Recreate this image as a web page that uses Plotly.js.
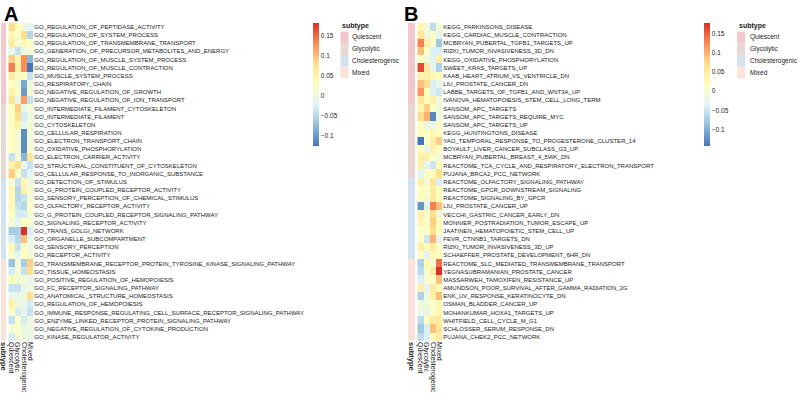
<!DOCTYPE html>
<html>
<head>
<meta charset="utf-8">
<script src="https://cdn.plot.ly/plotly-3.0.1.min.js"></script>
<style>html,body{margin:0;padding:0;background:#fff;}#chart{width:800px;height:404px;}</style>
</head>
<body>
<div id="chart"></div>
<script>
// ---------- DATA ----------
const columns = ["Quiescent", "Glycolytic", "Cholesterogenic", "Mixed"];
const subtypeNames = ["Quiescent", "Glycolytic", "Cholesterogenic", "Mixed"];
const subtypeColors = ["#F1C9CC", "#E7D8D1", "#D4E1EF", "#FDE2D9"];

const rowsA = [
  "GO_REGULATION_OF_PEPTIDASE_ACTIVITY","GO_REGULATION_OF_SYSTEM_PROCESS","GO_REGULATION_OF_TRANSMEMBRANE_TRANSPORT",
  "GO_GENERATION_OF_PRECURSOR_METABOLITES_AND_ENERGY","GO_REGULATION_OF_MUSCLE_SYSTEM_PROCESS","GO_REGULATION_OF_MUSCLE_CONTRACTION",
  "GO_MUSCLE_SYSTEM_PROCESS","GO_RESPIRATORY_CHAIN","GO_NEGATIVE_REGULATION_OF_GROWTH","GO_NEGATIVE_REGULATION_OF_ION_TRANSPORT",
  "GO_INTERMEDIATE_FILAMENT_CYTOSKELETON","GO_INTERMEDIATE_FILAMENT","GO_CYTOSKELETON","GO_CELLULAR_RESPIRATION",
  "GO_ELECTRON_TRANSPORT_CHAIN","GO_OXIDATIVE_PHOSPHORYLATION","GO_ELECTRON_CARRIER_ACTIVITY",
  "GO_STRUCTURAL_CONSTITUENT_OF_CYTOSKELETON","GO_CELLULAR_RESPONSE_TO_INORGANIC_SUBSTANCE",
  "GO_DETECTION_OF_STIMULUS","GO_G_PROTEIN_COUPLED_RECEPTOR_ACTIVITY","GO_SENSORY_PERCEPTION_OF_CHEMICAL_STIMULUS",
  "GO_OLFACTORY_RECEPTOR_ACTIVITY","GO_G_PROTEIN_COUPLED_RECEPTOR_SIGNALING_PATHWAY","GO_SIGNALING_RECEPTOR_ACTIVITY",
  "GO_TRANS_GOLGI_NETWORK","GO_ORGANELLE_SUBCOMPARTMENT","GO_SENSORY_PERCEPTION","GO_RECEPTOR_ACTIVITY",
  "GO_TRANSMEMBRANE_RECEPTOR_PROTEIN_TYROSINE_KINASE_SIGNALING_PATHWAY","GO_TISSUE_HOMEOSTASIS",
  "GO_POSITIVE_REGULATION_OF_HEMOPOIESIS","GO_FC_RECEPTOR_SIGNALING_PATHWAY","GO_ANATOMICAL_STRUCTURE_HOMEOSTASIS",
  "GO_REGULATION_OF_HEMOPOIESIS","GO_IMMUNE_RESPONSE_REGULATING_CELL_SURFACE_RECEPTOR_SIGNALING_PATHWAY",
  "GO_ENZYME_LINKED_RECEPTOR_PROTEIN_SIGNALING_PATHWAY","GO_NEGATIVE_REGULATION_OF_CYTOKINE_PRODUCTION",
  "GO_KINASE_REGULATOR_ACTIVITY"
];
const subtypeA = [0,0,0,0,0,0,0,0,0,0, 1,1,1,1,1,1,1,1,1, 2,2,2,2,2,2,2,2,2,2, 3,3,3,3,3,3,3,3,3,3];
const quiescentA = [0.08,0.04,0.06,-0.01,0.09,0.14,0.06,0.03,0.05,0.07, 0.03,0.03,0.03,0.03,0.03,0.03,-0.04,0.05,0.09, 0.01,0.04,0.04,0.04,0.03,0.01,-0.06,-0.03,0.04,0.02, -0.07,-0.03,0.04,-0.04,-0.01,0.05,0.02,-0.04,0.01,-0.03];
const glycolyticA = [0.03,0.02,0.01,-0.04,0.04,0.05,0.02,0.01,0.02,-0.01, 0.09,0.08,0.05,0.01,0.01,0.01,0.01,0.08,0.02, -0.04,-0.05,-0.05,-0.04,-0.03,-0.02,-0.06,-0.05,-0.04,-0.02, 0.01,0.01,0.01,-0.04,-0.01,0.0,-0.03,0.02,0.02,0.01];
const cholesterogenicA = [0.0,0.08,0.04,0.0,0.13,0.13,0.03,-0.09,-0.10,0.12, -0.01,-0.03,-0.02,-0.11,-0.11,-0.11,-0.08,-0.01,-0.04, 0.04,0.05,-0.04,-0.05,-0.03,0.03,0.182,0.10,0.02,0.03, -0.06,-0.04,0.01,-0.01,0.0,-0.01,-0.01,-0.03,-0.01,0.0];
const mixedA = [-0.02,-0.05,0.02,0.01,-0.08,-0.126,-0.04,0.0,0.01,-0.04, 0.01,0.0,0.01,0.01,0.0,0.01,0.07,-0.04,-0.02, 0.0,0.01,0.01,0.02,0.01,0.01,-0.03,-0.01,0.0,0.01, 0.09,0.08,-0.01,0.0,0.08,-0.03,-0.04,0.0,0.0,-0.01];

const rowsB = [
  "KEGG_PARKINSONS_DISEASE","KEGG_CARDIAC_MUSCLE_CONTRACTION","MCBRYAN_PUBERTAL_TGFB1_TARGETS_UP","RIZKI_TUMOR_INVASIVENESS_3D_DN",
  "KEGG_OXIDATIVE_PHOSPHORYLATION","SWEET_KRAS_TARGETS_UP","KAAB_HEART_ATRIUM_VS_VENTRICLE_DN","LIU_PROSTATE_CANCER_DN",
  "LABBE_TARGETS_OF_TGFB1_AND_WNT3A_UP","IVANOVA_HEMATOPOIESIS_STEM_CELL_LONG_TERM",
  "SANSOM_APC_TARGETS","SANSOM_APC_TARGETS_REQUIRE_MYC","SANSOM_APC_TARGETS_UP","KEGG_HUNTINGTONS_DISEASE",
  "YAO_TEMPORAL_RESPONSE_TO_PROGESTERONE_CLUSTER_14","BOYAULT_LIVER_CANCER_SUBCLASS_G3_UP","MCBRYAN_PUBERTAL_BREAST_4_5WK_DN",
  "REACTOME_TCA_CYCLE_AND_RESPIRATORY_ELECTRON_TRANSPORT","PUJANA_BRCA2_PCC_NETWORK",
  "REACTOME_OLFACTORY_SIGNALING_PATHWAY","REACTOME_GPCR_DOWNSTREAM_SIGNALING","REACTOME_SIGNALING_BY_GPCR",
  "LIU_PROSTATE_CANCER_UP","VECCHI_GASTRIC_CANCER_EARLY_DN","MONNIER_POSTRADIATION_TUMOR_ESCAPE_UP",
  "JAATINEN_HEMATOPOIETIC_STEM_CELL_UP","FEVR_CTNNB1_TARGETS_DN","RIZKI_TUMOR_INVASIVENESS_3D_UP",
  "SCHAEFFER_PROSTATE_DEVELOPMENT_6HR_DN",
  "REACTOME_SLC_MEDIATED_TRANSMEMBRANE_TRANSPORT","YEGNASUBRAMANIAN_PROSTATE_CANCER","MASSARWEH_TAMOXIFEN_RESISTANCE_UP",
  "AMUNDSON_POOR_SURVIVAL_AFTER_GAMMA_RADIATION_2G","ENK_UV_RESPONSE_KERATINOCYTE_DN","OSMAN_BLADDER_CANCER_UP",
  "MOHANKUMAR_HOXA1_TARGETS_UP","WHITFIELD_CELL_CYCLE_M_G1","SCHLOSSER_SERUM_RESPONSE_DN","PUJANA_CHEK2_PCC_NETWORK"
];
const subtypeB = [0,0,0,0,0,0,0,0,0,0, 1,1,1,1,1,1,1,1,1, 2,2,2,2,2,2,2,2,2,2, 3,3,3,3,3,3,3,3,3,3];
const quiescentB = [0.03,0.06,0.13,0.09,0.01,0.16,0.04,0.09,0.12,0.06, 0.03,0.07,0.02,0.02,-0.143,0.02,0.04,0.04,-0.03, 0.04,0.02,0.02,-0.12,0.04,0.03,0.01,0.01,0.04,0.01, -0.07,-0.06,-0.04,0.04,-0.07,-0.01,-0.02,-0.06,-0.08,-0.06];
const glycolyticB = [-0.01,-0.01,0.04,0.01,-0.01,0.05,0.04,0.07,0.02,0.02, 0.08,0.10,-0.02,0.01,0.01,-0.02,0.04,-0.03,0.01, 0.0,0.01,0.0,-0.03,0.01,0.01,0.01,-0.05,0.02,-0.03, 0.03,0.01,0.01,-0.03,-0.01,-0.01,-0.02,0.02,-0.04,-0.04];
const cholesterogenicB = [-0.06,0.01,0.01,-0.04,-0.03,-0.03,0.03,-0.04,-0.04,0.04, 0.01,-0.13,-0.02,0.03,0.04,0.04,0.01,-0.05,0.02, 0.06,0.05,0.05,0.13,0.07,0.08,0.07,0.10,0.05,0.03, 0.0,0.05,0.01,0.05,0.04,0.01,0.01,0.05,0.09,0.02];
const mixedB = [0.0,-0.03,-0.08,-0.04,0.04,-0.07,0.02,-0.02,-0.05,-0.01, -0.01,-0.01,0.01,0.01,0.08,0.01,-0.01,0.02,0.07, -0.04,0.02,0.02,0.09,-0.01,0.02,0.02,-0.03,0.01,0.02, 0.14,0.176,0.09,0.02,0.09,0.03,0.03,0.05,0.06,0.05];

const heatTicks = [-0.1, -0.05, 0, 0.05, 0.1, 0.15];
const heatTickText = ["\u22120.1", "\u22120.05", "0", "0.05", "0.1", "0.15"];

// ---------- STYLE ----------
const W = 800, H = 404;
const FONT = "Liberation Sans, Arial, sans-serif";
const rdylbu = ["#4575B4","#91BFDB","#E0F3F8","#FFFFBF","#FEE090","#FC8D59","#D73027"];
const heatScale = rdylbu.map((c, i) => [i / (rdylbu.length - 1), c]);
const annScale = [];
subtypeColors.forEach((c, i) => {
  const lo = i === 0 ? 0 : (i - 0.5) / 3, hi = i === 3 ? 1 : (i + 0.5) / 3;
  annScale.push([lo, c]); annScale.push([hi, c]);
});
const px = v => v / W;
const py = v => 1 - v / H;

function buildZ(cols) {
  return cols[0].map((_, r) => cols.map(c => c[r]));
}
function range(z) {
  const f = z.flat();
  return [Math.min(...f), Math.max(...f)];
}

const zA = buildZ([quiescentA, glycolyticA, cholesterogenicA, mixedA]);
const zB = buildZ([quiescentB, glycolyticB, cholesterogenicB, mixedB]);
const [minA, maxA] = range(zA);
const [minB, maxB] = range(zB);

function colorbar(xLeft) {
  return {
    x: px(xLeft), xanchor: "left", xref: "paper",
    y: py(23.3), yanchor: "top", yref: "paper",
    len: 122.5, lenmode: "pixels",
    thickness: 6, thicknessmode: "pixels",
    outlinewidth: 0, ticks: "", ticklen: 0,
    tickvals: heatTicks, ticktext: heatTickText,
    tickfont: {family: FONT, size: 6.5, color: "#222"},
    xpad: 0, ypad: 0
  };
}

const traces = [
  {type: "heatmap", x: ["subtype"], y: rowsA, z: subtypeA.map(v => [v]),
   zmin: 0, zmax: 3, colorscale: annScale, showscale: false, hoverinfo: "skip",
   xaxis: "x", yaxis: "y"},
  {type: "heatmap", x: columns, y: rowsA, z: zA, zmin: minA, zmax: maxA,
   colorscale: heatScale, colorbar: colorbar(312.5), hoverinfo: "skip",
   xaxis: "x2", yaxis: "y"},
  {type: "heatmap", x: ["subtype"], y: rowsB, z: subtypeB.map(v => [v]),
   zmin: 0, zmax: 3, colorscale: annScale, showscale: false, hoverinfo: "skip",
   xaxis: "x3", yaxis: "y2"},
  {type: "heatmap", x: columns, y: rowsB, z: zB, zmin: minB, zmax: maxB,
   colorscale: heatScale, colorbar: colorbar(704), hoverinfo: "skip",
   xaxis: "x4", yaxis: "y2"}
];

const yDom = [py(341), py(22.7)];
function xAx(d0, d1, anchor, labels, bold) {
  return {domain: [px(d0), px(d1)], anchor: anchor, side: "bottom", tickangle: 90,
    type: "category", tickmode: "array", tickvals: labels, ticktext: labels,
    showgrid: false, zeroline: false, showline: false, ticks: "", ticklen: 0,
    tickfont: {family: FONT, size: bold ? 7.5 : 7, color: "#222", weight: bold ? "bold" : "normal"},
    fixedrange: true};
}
function yAx(anchor, labels) {
  return {domain: yDom, anchor: anchor, side: "right", type: "category", autorange: "reversed",
    tickmode: "array", tickvals: labels, ticktext: labels,
    showgrid: false, zeroline: false, showline: false, ticks: "", ticklen: 0,
    tickfont: {family: FONT, size: 6, color: "#222"}, fixedrange: true};
}

const shapes = [], annotations = [];
function legend(x0, labelX) {
  annotations.push({xref: "paper", yref: "paper", x: px(x0), y: py(26), xanchor: "left", yanchor: "middle",
    text: "<b>subtype</b>", showarrow: false, font: {family: FONT, size: 7, color: "#222"}});
  subtypeNames.forEach((n, i) => {
    const top = 31.7 + i * 11.65;
    shapes.push({type: "rect", xref: "paper", yref: "paper", x0: px(x0 + 0.5), x1: px(x0 + 8.5),
      y0: py(top), y1: py(top + 11.65), fillcolor: subtypeColors[i], line: {width: 0}});
    annotations.push({xref: "paper", yref: "paper", x: px(labelX), y: py(top + 5.8), xanchor: "left", yanchor: "middle",
      text: n, showarrow: false, font: {family: FONT, size: 6.5, color: "#222"}});
  });
}
legend(340, 349.5);
legend(736.5, 748);

annotations.push({xref: "paper", yref: "paper", x: px(2), y: py(1), xanchor: "left", yanchor: "top",
  text: "<b>A</b>", showarrow: false, font: {family: FONT, size: 20, color: "#000"}});
annotations.push({xref: "paper", yref: "paper", x: px(402), y: py(1), xanchor: "left", yanchor: "top",
  text: "<b>B</b>", showarrow: false, font: {family: FONT, size: 20, color: "#000"}});

const layout = {
  width: W, height: H, margin: {l: 0, r: 0, t: 0, b: 0, pad: 0},
  paper_bgcolor: "#fff", plot_bgcolor: "#fff", showlegend: false,
  font: {family: FONT},
  xaxis: xAx(1, 6, "y", ["subtype"], true),
  xaxis2: xAx(8.3, 33.3, "y", columns, false),
  yaxis: yAx("x2", rowsA),
  xaxis3: xAx(408, 415, "y2", ["subtype"], true),
  xaxis4: xAx(417.3, 442.3, "y2", columns, false),
  yaxis2: yAx("x4", rowsB),
  shapes: shapes, annotations: annotations
};

Plotly.newPlot("chart", traces, layout, {staticPlot: true, displayModeBar: false});
</script>
</body>
</html>
